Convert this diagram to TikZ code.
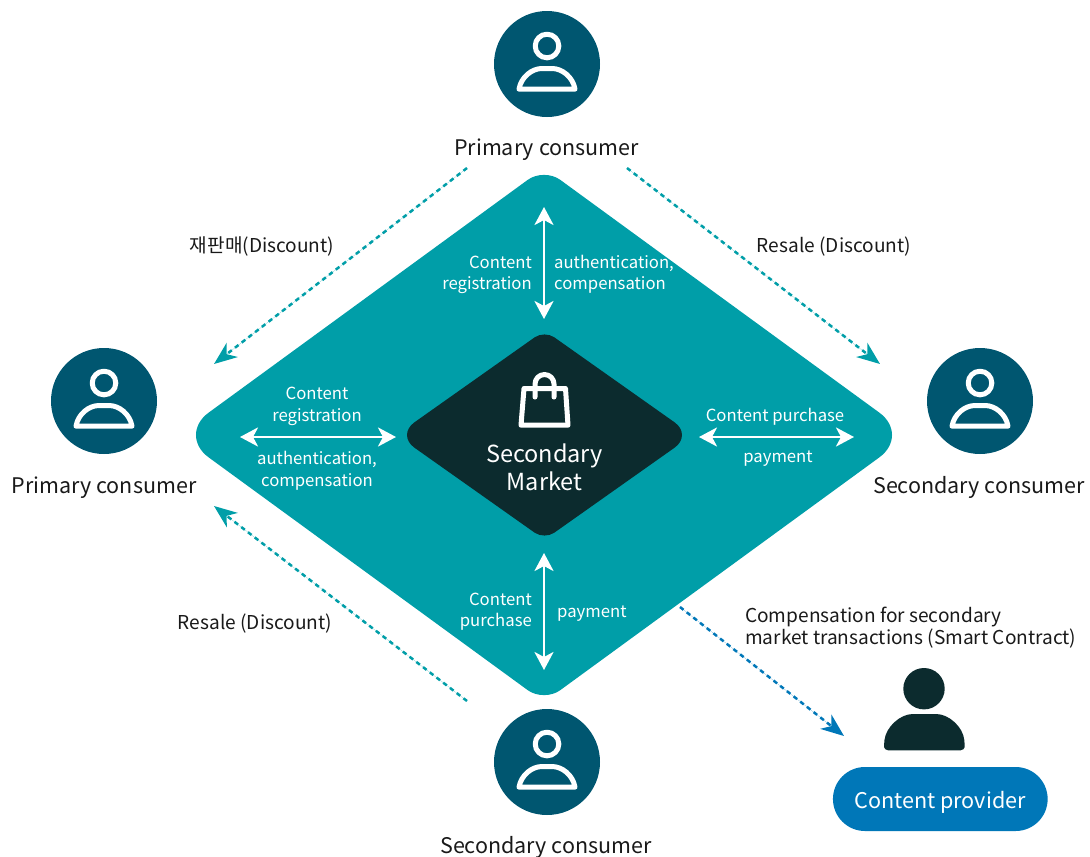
\documentclass[tikz,border=0pt]{standalone}
\usepackage{fontspec}
\setmainfont{Noto Sans CJK KR}
\usetikzlibrary{arrows.meta,calc}
\definecolor{teal1}{HTML}{009EA8}
\definecolor{darkc}{HTML}{0C2B2E}
\definecolor{circ}{HTML}{005670}
\definecolor{blue1}{HTML}{0077B8}
\tikzset{
  x=1pt,y=-1pt,
  lbl/.style={inner sep=0pt,text=black!90,font=\fontsize{21.5pt}{24pt}\selectfont,align=center},
  lblb/.style={inner sep=0pt,text=black!90,font=\fontsize{19.1pt}{22.5pt}\selectfont,align=center},
  wht/.style={inner sep=0pt,text=white,font=\fontsize{16.7pt}{21.5pt}\selectfont},
  personcirc/.style={circle,fill=circ,minimum size=106pt,inner sep=0pt},
  dotarrow/.style={line width=2.5pt,dash pattern=on 4.5pt off 4pt,-{Stealth[length=23pt,width=18pt,inset=7pt]}},
  whitearrow/.style={draw=white,line width=2.8pt,{Stealth[length=18pt,width=19pt,inset=5pt]}-{Stealth[length=18pt,width=19pt,inset=5pt]}},
  iconline/.style={draw=white,line width=5pt,line cap=round,line join=round},
}
\newcommand{\personicon}[1]{%
  \draw[iconline] ($(#1)+(0,-18)$) circle (11.8);
  \draw[iconline] ($(#1)+(-28,25.2)$) -- ($(#1)+(28,25.2)$)
     .. controls ($(#1)+(26,13)$) and ($(#1)+(15,4.5)$) .. ($(#1)+(5,4.5)$)
     -- ($(#1)+(-5,4.5)$)
     .. controls ($(#1)+(-15,4.5)$) and ($(#1)+(-26,13)$) .. cycle;
}
\begin{document}
\begin{tikzpicture}
\useasboundingbox (0,0) rectangle (1090,857);
% diamonds
\fill[teal1] (361,301.5) [rounded corners=20pt] -- (544,168) -- (727,301.5) [rounded corners=38pt] -- (910,435) -- (727,568.5) [rounded corners=20pt] -- (544,702) -- (361,568.5) [rounded corners=38pt] -- (178,435) -- cycle;
\fill[darkc] (470.5,382.7) [rounded corners=12pt] -- (544.5,330.4) -- (618.5,382.7) [rounded corners=22pt] -- (692.5,435) -- (618.5,487.3) [rounded corners=12pt] -- (544.5,539.6) -- (470.5,487.3) [rounded corners=22pt] -- (396.5,435) -- cycle;
% person circles
\node[personcirc] (ptop) at (547,64) {};
\node[personcirc] (pleft) at (104,401) {};
\node[personcirc] (pright) at (980,401) {};
\node[personcirc] (pbot) at (547,762) {};
\personicon{ptop}\personicon{pleft}\personicon{pright}\personicon{pbot}
% labels
\node[lbl] (ltop) at (546.5,150) {Primary consumer};
\node[lbl] (lleft) at (104,488) {Primary consumer};
\node[lbl] (lright) at (979,487.5) {Secondary consumer};
\node[lbl] (lbot) at (546,847.5) {Secondary consumer};
\node[lblb] (rs1) at (262,246.5) {재판매(Discount)};
\node[lblb] (rs2) at (834,246.5) {Resale (Discount)};
\node[lblb] (rs3) at (255,623.5) {Resale (Discount)};
\node[lblb,align=left,anchor=west] (comp) at (745,627.5) {Compensation for secondary\\market transactions (Smart Contract)};
% centre
\node[inner sep=0pt,text=white,font=\fontsize{23.5pt}{27.5pt}\selectfont,align=center] (sm) at (544.5,467.5) {Secondary\\Market};
\draw[iconline] (521,425.2) -- (524,388.5) -- (565.5,388.5) -- (568,425.2) -- cycle;
\draw[iconline] (535,397) -- (535,384) arc[start angle=180,end angle=360,radius=9.5] -- (554,397);
% white labels
\node[wht,align=right,anchor=east] (w1) at (532,275) {Content\\registration};
\node[wht,align=left,anchor=west] (w2) at (554,274.5) {authentication,\\compensation};
\node[wht,align=center] (w3) at (317,406.3) {Content\\registration};
\node[wht,align=center] (w4) at (317,471) {authentication,\\compensation};
\node[wht] (w5) at (775,417) {Content purchase};
\node[wht] (w6) at (778,458.5) {payment};
\node[wht,align=right,anchor=east] (w7) at (532,611.5) {Content\\purchase};
\node[wht,anchor=west] (w8) at (557,613.5) {payment};
% white arrows
\coordinate (a1) at (544,207); \coordinate (a2) at (544,319);
\coordinate (b1) at (240,437); \coordinate (b2) at (396,437);
\coordinate (c1) at (699,437); \coordinate (c2) at (854,437);
\coordinate (d1) at (544,553); \coordinate (d2) at (544,670);
\draw[whitearrow] (a1) -- (a2);
\draw[whitearrow] (b1) -- (b2);
\draw[whitearrow] (c1) -- (c2);
\draw[whitearrow] (d1) -- (d2);
% dotted arrows
\coordinate (e1) at (467,168); \coordinate (e2) at (214,364);
\coordinate (f1) at (627,168); \coordinate (f2) at (880,364);
\coordinate (g1) at (467,701); \coordinate (g2) at (214,506);
\coordinate (h1) at (680,607); \coordinate (h2) at (844,736);
\draw[dotarrow,draw=teal1,fill=teal1] (e1) -- (e2);
\draw[dotarrow,draw=teal1,fill=teal1] (f1) -- (f2);
\draw[dotarrow,draw=teal1,fill=teal1] (g1) -- (g2);
\draw[dotarrow,draw=blue1,fill=blue1] (h1) -- (h2);
% content provider
\fill[darkc] (924,688.7) circle (20.7);
\fill[darkc,rounded corners=4pt] (884,750.3) -- (884,744)
  .. controls (886,727) and (900,714) .. (917,714) -- (932,714)
  .. controls (949,714) and (963,727) .. (964.7,744) -- (964.7,750.3) -- cycle;
\node[fill=blue1,rounded corners=32pt,minimum width=214.7pt,minimum height=64pt,inner sep=0pt] (cp) at (940.3,799) {};
\node[inner sep=0pt,text=white,font=\fontsize{21.6pt}{24pt}\selectfont] (cpt) at (940,802) {Content provider};
\end{tikzpicture}
\end{document}
